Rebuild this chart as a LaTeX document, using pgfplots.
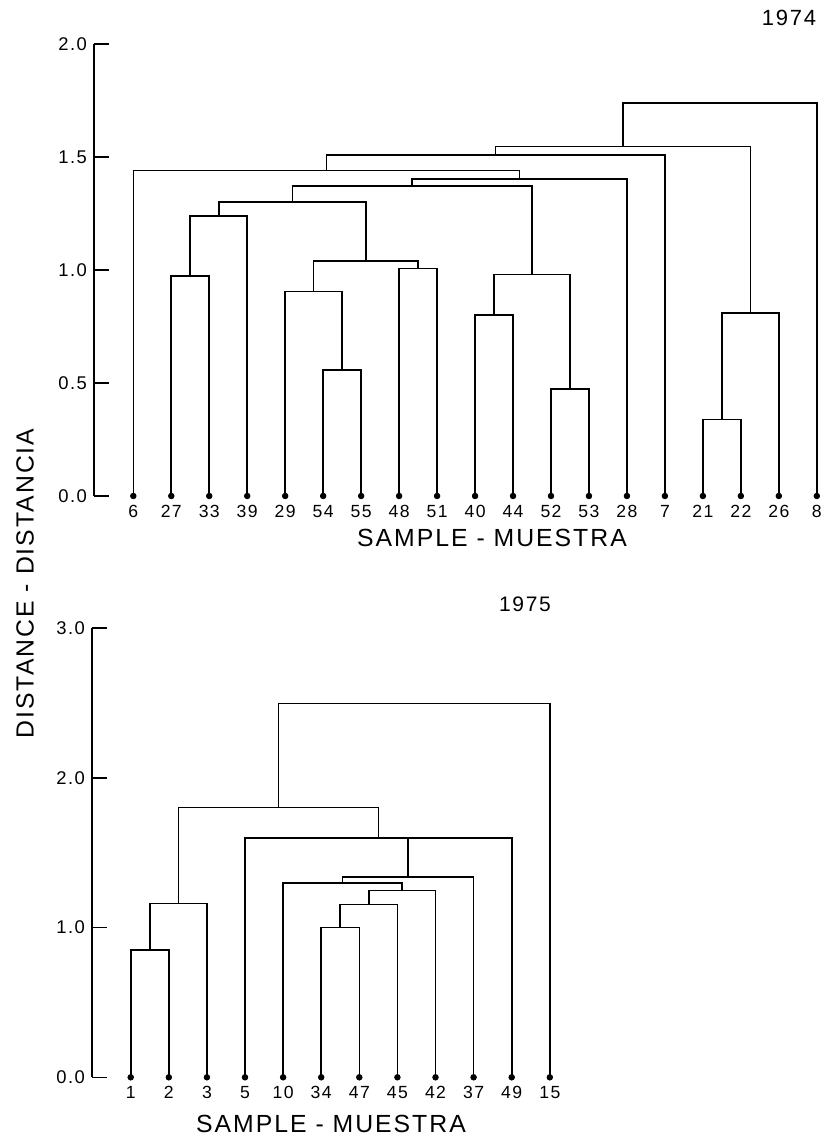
\documentclass[border=0pt]{standalone}
\usepackage{fontspec}
\setmainfont{Liberation Sans}[LetterSpace=8]
\usepackage{pgfplots}
\pgfplotsset{compat=1.18}

\pgfplotsset{
  dendro/.style={
    scale only axis,
    anchor=south west,
    axis lines*=left,
    axis line style={black, line width=0.8pt},
    x axis line style={draw=none},
    xtick style={draw=none},
    ytick style={black, line width=0.8pt},
    tick align=inside,
    major tick length=7.5pt,
    clip=false,
    /pgf/number format/assume math mode=true,
    xticklabel style={font=\fontsize{8.8}{10}\selectfont, yshift=-1pt},
    yticklabel style={font=\fontsize{9.2}{10}\selectfont},
    xlabel style={font=\fontsize{12.4}{14}\selectfont, anchor=center},
  },
  seg/.style={black, line width=0.8pt, no markers},
  leaf/.style={black, only marks, mark=*, mark size=1.4pt},
}

\begin{document}
\begin{tikzpicture}
\useasboundingbox (0,0) rectangle (413pt,569.5pt);

% 1974
\begin{axis}[dendro,
  at={(47pt,321.5pt)}, width=361.4pt, height=225.85pt,
  xmin=-1.035, xmax=18, ymin=0, ymax=2,
  ytick={0,0.5,1,1.5,2}, yticklabels={0.0,0.5,1.0,1.5,2.0},
  xtick={0,...,18},
  xticklabels={6,27,33,39,29,54,55,48,51,40,44,52,53,28,7,21,22,26,8},
  xlabel={SAMPLE - MUESTRA},
  xlabel style={at={(axis description cs:0.5506,0)}, yshift=-21pt},
]
\addplot[seg] coordinates {(1,0) (1,0.973) (2,0.973) (2,0)};
\addplot[seg] coordinates {(1.5,0.973) (1.5,1.240) (3,1.240) (3,0)};
\addplot[seg] coordinates {(5,0) (5,0.557) (6,0.557) (6,0)};
\addplot[seg] coordinates {(4,0) (4,0.905) (5.5,0.905) (5.5,0.557)};
\addplot[seg] coordinates {(7,0) (7,1.008) (8,1.008) (8,0)};
\addplot[seg] coordinates {(4.75,0.905) (4.75,1.040) (7.5,1.040) (7.5,1.008)};
\addplot[seg] coordinates {(2.25,1.240) (2.25,1.301) (6.125,1.301) (6.125,1.040)};
\addplot[seg] coordinates {(9,0) (9,0.802) (10,0.802) (10,0)};
\addplot[seg] coordinates {(11,0) (11,0.473) (12,0.473) (12,0)};
\addplot[seg] coordinates {(9.5,0.802) (9.5,0.980) (11.5,0.980) (11.5,0.473)};
\addplot[seg] coordinates {(4.1875,1.301) (4.1875,1.373) (10.5,1.373) (10.5,0.980)};
\addplot[seg] coordinates {(7.344,1.373) (7.344,1.404) (13,1.404) (13,0)};
\addplot[seg] coordinates {(0,0) (0,1.442) (10.172,1.442) (10.172,1.404)};
\addplot[seg] coordinates {(5.086,1.442) (5.086,1.509) (14,1.509) (14,0)};
\addplot[seg] coordinates {(15,0) (15,0.339) (16,0.339) (16,0)};
\addplot[seg] coordinates {(15.5,0.339) (15.5,0.810) (17,0.810) (17,0)};
\addplot[seg] coordinates {(9.543,1.509) (9.543,1.547) (16.25,1.547) (16.25,0.810)};
\addplot[seg] coordinates {(12.896,1.547) (12.896,1.740) (18,1.740) (18,0)};
\addplot[leaf] coordinates {(0,0) (1,0) (2,0) (3,0) (4,0) (5,0) (6,0) (7,0) (8,0) (9,0)
  (10,0) (11,0) (12,0) (13,0) (14,0) (15,0) (16,0) (17,0) (18,0)};
\end{axis}

% 1975
\begin{axis}[dendro,
  at={(46pt,30.85pt)}, width=228.9pt, height=224.65pt,
  xmin=-1.016, xmax=11, ymin=0, ymax=3,
  ytick={0,1,2,3}, yticklabels={0.0,1.0,2.0,3.0},
  xtick={0,...,11},
  xticklabels={1,2,3,5,10,34,47,45,42,37,49,15},
  xlabel={SAMPLE - MUESTRA},
  xlabel style={at={(axis description cs:0.522,0)}, yshift=-23.35pt},
]
\addplot[seg] coordinates {(0,0) (0,0.849) (1,0.849) (1,0)};
\addplot[seg] coordinates {(0.5,0.849) (0.5,1.161) (2,1.161) (2,0)};
\addplot[seg] coordinates {(5,0) (5,1.000) (6,1.000) (6,0)};
\addplot[seg] coordinates {(5.5,1.000) (5.5,1.153) (7,1.153) (7,0)};
\addplot[seg] coordinates {(6.25,1.153) (6.25,1.247) (8,1.247) (8,0)};
\addplot[seg] coordinates {(4,0) (4,1.297) (7.125,1.297) (7.125,1.247)};
\addplot[seg] coordinates {(5.5625,1.297) (5.5625,1.339) (9,1.339) (9,0)};
\addplot[seg] coordinates {(3,0) (3,1.599) (10,1.599) (10,0)};
\addplot[seg] coordinates {(7.281,1.339) (7.281,1.599)};
\addplot[seg] coordinates {(1.25,1.161) (1.25,1.802) (6.5,1.802) (6.5,1.599)};
\addplot[seg] coordinates {(3.875,1.802) (3.875,2.495) (11,2.495) (11,0)};
\addplot[leaf] coordinates {(0,0) (1,0) (2,0) (3,0) (4,0) (5,0) (6,0) (7,0) (8,0) (9,0)
  (10,0) (11,0)};
\end{axis}

\node[font=\fontsize{11}{13}\selectfont] at (394.5pt,560.5pt) {1974};
\node[font=\fontsize{10.5}{12}\selectfont] at (262.5pt,267.2pt) {1975};
\node[font=\fontsize{12.4}{14}\selectfont, rotate=90] at (12.5pt,277.75pt) {DISTANCE - DISTANCIA};
\end{tikzpicture}
\end{document}
